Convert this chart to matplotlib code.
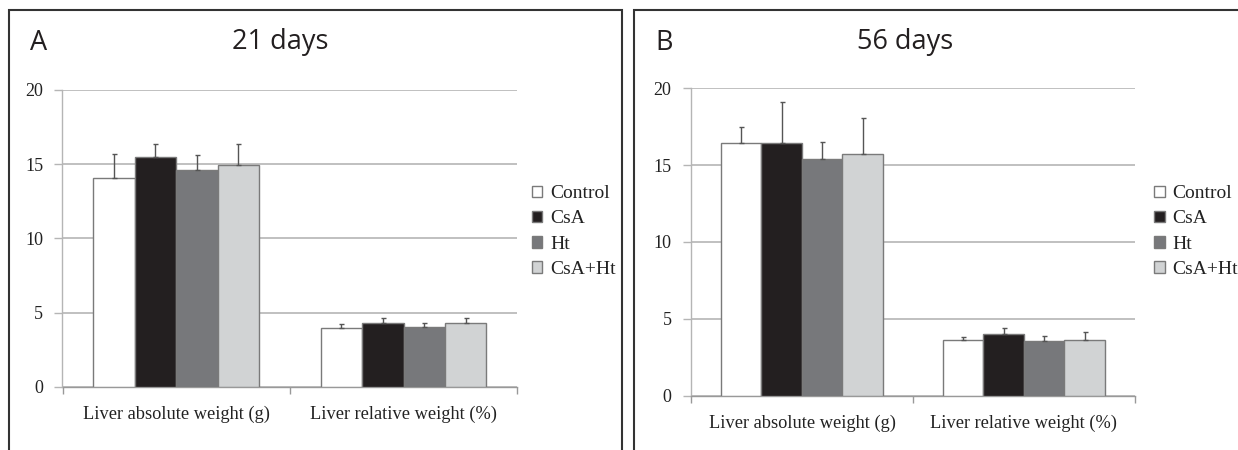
import matplotlib
matplotlib.use("Agg")
import matplotlib.pyplot as plt
from matplotlib.patches import Rectangle
import numpy as np

# ---------------- data ----------------
categories = ["Liver absolute weight (g)", "Liver relative weight (%)"]
groups = ["Control", "CsA", "Ht", "CsA+Ht"]
colors = ["#ffffff", "#231f20", "#77787b", "#d1d3d4"]

# 21 days (panel A): means and SD per group, [absolute, relative]
a_means = {"Control": [14.1, 3.98], "CsA": [15.45, 4.27], "Ht": [14.6, 4.0], "CsA+Ht": [14.97, 4.31]}
a_err = {"Control": [1.6, 0.24], "CsA": [0.93, 0.33], "Ht": [1.05, 0.31], "CsA+Ht": [1.41, 0.29]}
# 56 days (panel B)
b_means = {"Control": [16.42, 3.6], "CsA": [16.46, 3.99], "Ht": [15.4, 3.54], "CsA+Ht": [15.75, 3.62]}
b_err = {"Control": [1.08, 0.24], "CsA": [2.63, 0.44], "Ht": [1.13, 0.36], "CsA+Ht": [2.34, 0.5]}

panel_letters = ["A", "B"]
panel_titles = ["21 days", "56 days"]
yticks = [0, 5, 10, 15, 20]

W, H = 1238, 450
fig = plt.figure(figsize=(W / 100, H / 100), dpi=100)

serif = ["Liberation Serif", "DejaVu Serif"]
sans = ["Open Sans", "Lato", "DejaVu Sans"]

def px_rect(x0, y0, x1, y1):
    return [x0 / W, 1 - y1 / H, (x1 - x0) / W, (y1 - y0) / H]

# panel frames
for (fx0, fx1) in [(8.7, 622.3), (634.3, 1250)]:
    fig.patches.append(Rectangle((fx0 / W, -0.05), (fx1 - fx0) / W, 1 - 10 / H + 0.05,
                                 transform=fig.transFigure, fill=False,
                                 edgecolor="#333333", linewidth=1.5))

axes_px = [(62.5, 90.0, 517.2, 386.7), (691.0, 88.3, 1134.8, 395.7)]
legend_px = [531.8, 1154.0]
letter_px = [30.5, 655.0]
title_cx = [280.0, 905.0]

datasets = [(a_means, a_err), (b_means, b_err)]

for i, (means, errs) in enumerate(datasets):
    ax = fig.add_axes(px_rect(*axes_px[i]))
    x = np.arange(len(categories))
    bw = 0.1823
    handles = []
    for j, g in enumerate(groups):
        off = (j - 1.5) * bw
        m = np.array(means[g])
        e = np.array(errs[g])
        bars = ax.bar(x + off, m, width=bw, color=colors[j], edgecolor="#7a7a7a",
                      linewidth=1.0, zorder=3, label=g)
        ax.errorbar(x + off, m, yerr=[np.zeros_like(e), e], fmt="none",
                    ecolor="#555555", elinewidth=1.0, capsize=1.8, capthick=1.0, zorder=4)
        handles.append(bars)
    ax.set_xlim(-0.5, 1.5)
    ax.set_ylim(0, 20)
    ax.set_yticks(yticks)
    ax.set_yticklabels([str(t) for t in yticks], fontfamily=serif, fontsize=13, color="#222222")
    ax.yaxis.grid(True, color="#b5b5b5", linewidth=1.2, zorder=0)
    ax.set_axisbelow(True)
    ax.tick_params(axis="y", length=6, width=1.0, color="#b5b5b5", pad=8)
    ax.set_xticks(x)
    ax.set_xticklabels(categories, fontfamily=serif, fontsize=13.2, color="#222222")
    ax.set_xticks([-0.5, 0.5, 1.5], minor=True)
    ax.tick_params(axis="x", which="major", length=0, pad=14)
    ax.tick_params(axis="x", which="minor", length=5, width=1.0, color="#999999")
    for s in ["top", "right"]:
        ax.spines[s].set_visible(False)
    ax.spines["left"].set_color("#b5b5b5")
    ax.spines["bottom"].set_color("#999999")
    ax.spines["left"].set_linewidth(1.0)
    ax.spines["bottom"].set_linewidth(1.0)

    leg = fig.legend(handles=handles, labels=groups, loc="center left",
                     bbox_to_anchor=(legend_px[i] / W, 1 - 231.5 / H),
                     frameon=False, prop={"family": serif, "size": 14},
                     handlelength=0.55, handleheight=0.55, handletextpad=0.4,
                     labelspacing=0.42, borderpad=0, borderaxespad=0)
    for t in leg.get_texts():
        t.set_color("#222222")

    fig.text(letter_px[i] / W, 1 - 49.5 / H, panel_letters[i], fontfamily=sans,
             fontsize=19.5, color="#231f20", ha="left", va="baseline")
    fig.text(title_cx[i] / W, 1 - 49.5 / H, panel_titles[i], fontfamily=sans,
             fontsize=19.5, color="#231f20", ha="center", va="baseline")

fig.savefig("out.png", dpi=100)
